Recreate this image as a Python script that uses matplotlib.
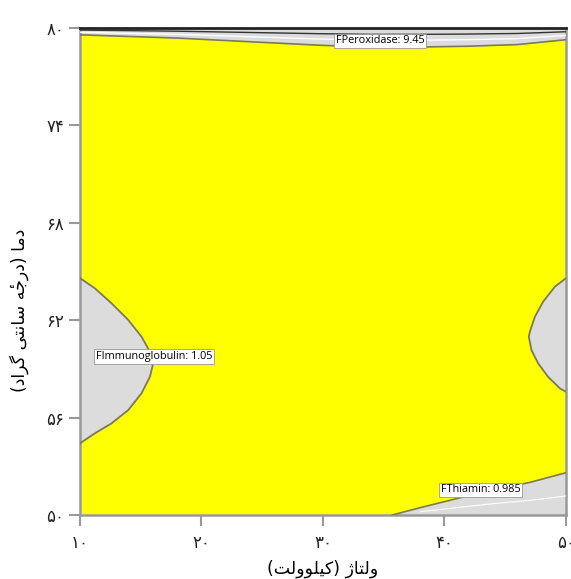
import matplotlib
matplotlib.use("Agg")
import matplotlib.pyplot as plt

# ---- data ----
x_ticks = [10, 20, 30, 40, 50]
x_tick_labels = ["۱۰", "۲۰", "۳۰", "۴۰", "۵۰"]
y_ticks = [50, 56, 62, 68, 74, 80]
y_tick_labels = ["۵۰", "۵۶", "۶۲", "۶۸", "۷۴", "۸۰"]

# visual-order, pre-shaped Persian labels
x_label = "(ﺖﻟﻭﻮﻠﯿﮐ) ﮊﺎﺘﻟﻭ"            # ولتاژ (کیلوولت)
y_label = "(ﺩﺍﺮﮔ ﯽﺘﻧﺎﺳ ﻪٔﺟﺭﺩ) ﺎﻣﺩ"     # دما (درجهٔ سانتی گراد)

# Peroxidase limit (top band)
perox_x = [10, 14, 18, 22, 26, 30, 34, 38, 42, 46, 50]
perox_y = [79.55, 79.45, 79.35, 79.2, 79.05, 78.9, 78.8, 78.8, 78.85, 78.95, 79.25]

# Immunoglobulin limit (left lobe)
imm_y = [54.41, 55.03, 55.64, 56.46, 57.49, 58.51, 59.54, 60.05, 60.97, 62.0, 63.03, 63.95, 64.58]
imm_x = [10.0, 11.23, 12.6, 13.98, 15.07, 15.76, 16.1, 15.76, 15.07, 13.98, 12.6, 11.23, 10.0]

# right lobe
right_y = [57.59, 57.8, 58.5, 59.33, 60.15, 60.97, 61.28, 62.2, 63.13, 64.05, 64.57]
right_x = [50.0, 49.5, 48.54, 47.72, 47.17, 46.95, 47.04, 47.45, 48.13, 49.1, 50.0]

# Thiamin limit (bottom right)
thia_x = [35.7, 38, 41.5, 44, 47, 50]
thia_y = [50, 50.45, 51.1, 51.55, 52.0, 52.6]

labels = [("FPeroxidase: 9.45", 34.7, 79.17),
          ("FImmunoglobulin: 1.05", 16.1, 59.75),
          ("FThiamin: 0.985", 43.0, 51.54)]

YELLOW = "#FFFF00"
GRAY = "#DCDCDC"
EDGE = "#7A7A5A"

fig = plt.figure(figsize=(5.71, 5.79), dpi=100)
ax = fig.add_axes([0.140, 0.1105, 0.851, 0.842])
ax.set_xlim(10, 50)
ax.set_ylim(50, 80)
ax.set_facecolor(YELLOW)

# top band
ax.fill_between(perox_x, perox_y, 80, color=GRAY, lw=0, zorder=2)
ax.plot(perox_x, perox_y, color=EDGE, lw=1.2, zorder=3)
ax.plot(perox_x, [80 - (80 - v) * 0.35 for v in perox_y], color="#333333", lw=1.0, zorder=3)
ax.plot(perox_x, [80 - (80 - v) * 0.65 for v in perox_y], color="white", lw=1.0, zorder=3)

# left lobe
ax.fill_betweenx(imm_y, 10, imm_x, color=GRAY, lw=0, zorder=2)
ax.plot(imm_x, imm_y, color=EDGE, lw=1.3, zorder=3, solid_joinstyle="round")

# right lobe
ax.fill_betweenx(right_y, right_x, 50, color=GRAY, lw=0, zorder=2)
ax.plot(right_x, right_y, color=EDGE, lw=1.3, zorder=3, solid_joinstyle="round")

# thiamin
ax.fill_between(thia_x, 50, thia_y, color=GRAY, lw=0, zorder=2)
ax.plot(thia_x, thia_y, color=EDGE, lw=1.2, zorder=3)
ax.plot(thia_x[1:], [50 + (v - 50) * 0.45 for v in thia_y[1:]], color="white", lw=0.8, zorder=3)

for txt, lx, ly in labels:
    ax.text(lx, ly, txt, fontsize=7.8, family="Open Sans", ha="center", va="center",
            zorder=5,
            bbox=dict(boxstyle="square,pad=0.15", fc="white", ec="#999999", lw=0.6))

ax.set_xticks(x_ticks)
ax.set_xticklabels(x_tick_labels, family="DejaVu Sans", fontsize=12)
ax.set_yticks(y_ticks)
ax.set_yticklabels(y_tick_labels, family="DejaVu Sans", fontsize=12)
ax.tick_params(axis="both", length=8, width=1.5, color="#999999", labelcolor="#222222")
ax.tick_params(axis="x", pad=6)

for s in ["left", "right", "bottom"]:
    ax.spines[s].set_color("#999999")
    ax.spines[s].set_linewidth(1.8)
ax.spines["top"].set_color("#222222")
ax.spines["top"].set_linewidth(2.0)

ax.set_xlabel(x_label, family="DejaVu Sans", fontsize=12.5, labelpad=5)
ax.set_ylabel(y_label, family="DejaVu Sans", fontsize=12.5, labelpad=8)
ax.yaxis.set_label_coords(-0.105, 0.42)

fig.savefig("out.png", dpi=100)
